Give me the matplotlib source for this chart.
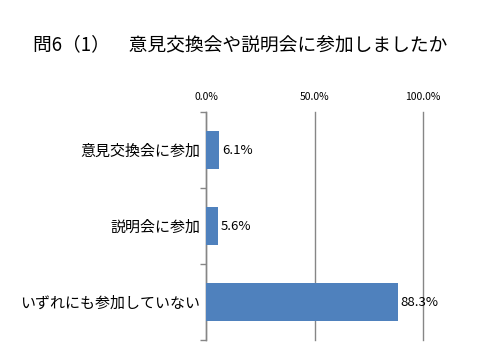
import matplotlib
matplotlib.use("Agg")
import matplotlib.pyplot as plt
import numpy as np

plt.rcParams['font.family'] = ['Noto Sans CJK JP', 'DejaVu Sans']

title = "問6（1）　意見交換会や説明会に参加しましたか"
categories = ["意見交換会に参加", "説明会に参加", "いずれにも参加していない"]
values = [6.1, 5.6, 88.3]
xticks = [0, 50, 100]
xticklabels = ["0.0%", "50.0%", "100.0%"]

fig = plt.figure(figsize=(4.8, 3.6), dpi=100)
ax = fig.add_axes([206/480, 1-340/360, 217/480, 228/360])

y = np.arange(len(categories))
ax.barh(y, values, height=0.51, color='#4F81BD', zorder=3)
for yi, v in zip(y, values):
    ax.text(v + 1.2, yi, f"{v:.1f}%", va='center', ha='left', fontsize=9.5, zorder=4)

ax.set_xlim(0, 100)
ax.set_ylim(len(categories) - 0.5, -0.5)
ax.xaxis.tick_top()
ax.set_xticks(xticks)
ax.set_xticklabels(xticklabels, fontsize=7.5)
ax.tick_params(axis='x', length=0, pad=7)
ax.grid(axis='x', color='#868686', linewidth=1, zorder=1)
for gl in ax.get_xgridlines():
    gl.set_clip_on(False)

ax.set_yticks(y)
ax.set_yticklabels(categories, fontsize=10.8)
ax.set_yticks(np.arange(len(categories) + 1) - 0.5, minor=True)
ax.tick_params(axis='y', which='major', length=0, pad=4)
ax.tick_params(axis='y', which='minor', length=4, color='#868686', width=1)

for s in ['top', 'right', 'bottom']:
    ax.spines[s].set_visible(False)
ax.spines['left'].set_color('#868686')
ax.spines['left'].set_linewidth(1)

fig.text(0.5, 1 - 45/360, title, ha='center', va='center', fontsize=13.5)

fig.savefig("out.png", dpi=100)
